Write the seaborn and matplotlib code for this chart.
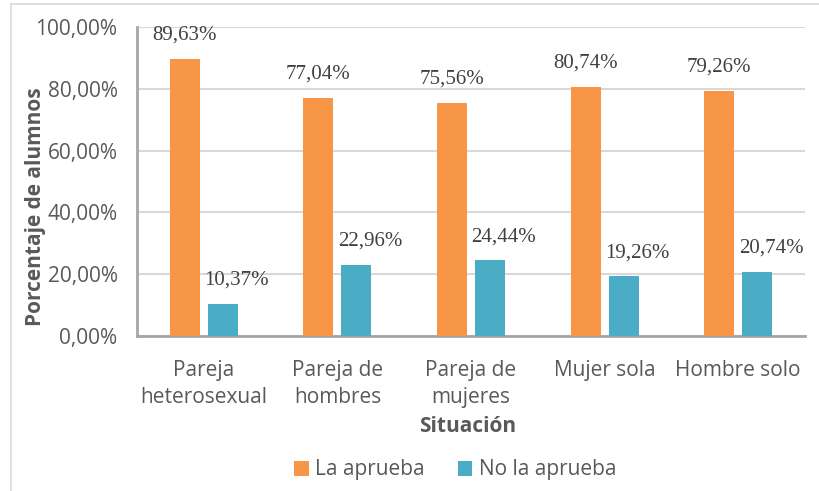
import pandas as pd
import matplotlib
matplotlib.use("Agg")
import matplotlib.pyplot as plt
import seaborn as sns
from matplotlib.patches import Rectangle
from matplotlib.ticker import FuncFormatter, MultipleLocator

# === DATA ===
situaciones = ["Pareja\nheterosexual", "Pareja de\nhombres", "Pareja de\nmujeres",
               "Mujer sola", "Hombre solo"]
series = ["La aprueba", "No la aprueba"]
la_aprueba = [89.63, 77.04, 75.56, 80.74, 79.26]
no_la_aprueba = [10.37, 22.96, 24.44, 19.26, 20.74]
colores = ["#F79646", "#4BACC6"]

df = pd.DataFrame({
    "Situación": situaciones * 2,
    "Serie": [series[0]] * len(situaciones) + [series[1]] * len(situaciones),
    "Porcentaje": la_aprueba + no_la_aprueba,
})

TEXT = "#595959"
sns.set_style("white")
plt.rcParams["font.family"] = ["Open Sans", "DejaVu Sans"]

fig = plt.figure(figsize=(8.19, 4.91), dpi=100)
ax = fig.add_axes([137 / 819, 1 - 336 / 491, 668 / 819, 309 / 491])

# chart area border (left and top visible)
fig.patches.append(Rectangle((11 / 819, -0.1), 1.2, 1 - 4 / 491 + 0.1,
                             transform=fig.transFigure, fill=False,
                             edgecolor="#D9D9D9", linewidth=1.2))

sns.barplot(data=df, x="Situación", y="Porcentaje", hue="Serie",
            palette=colores, width=0.569, gap=0.21, saturation=1,
            edgecolor="none", legend=True, ax=ax, zorder=3)

ax.set_ylim(0, 100)
ax.yaxis.set_major_locator(MultipleLocator(20))
ax.yaxis.set_major_formatter(FuncFormatter(lambda v, p: f"{v:.2f}%".replace(".", ",")))
ax.grid(axis="y", color="#D9D9D9", linewidth=1.5, zorder=0)
for s in ["top", "right"]:
    ax.spines[s].set_visible(False)
for s in ["left", "bottom"]:
    ax.spines[s].set_color("#A6A6A6")
    ax.spines[s].set_linewidth(2)
ax.tick_params(axis="y", length=0, pad=14, labelsize=15, labelcolor=TEXT)
ax.tick_params(axis="x", length=0, pad=17, labelsize=15, labelcolor=TEXT)
for lbl in ax.get_xticklabels():
    lbl.set_linespacing(1.4)

ax.set_ylabel("Porcentaje de alumnos", fontsize=15, fontweight="bold", color=TEXT)
ax.yaxis.set_label_coords(-(137 - 46) / 668, 0.42)
ax.set_xlabel("Situación", fontsize=15, fontweight="bold", color=TEXT)
ax.xaxis.set_label_coords((468 - 137) / 668, -(416 - 336) / 309)

# data labels
for container, dx in zip(ax.containers, [0, 10]):
    for bar in container:
        h = bar.get_height()
        ax.annotate(f"{h:.2f}%".replace(".", ","),
                    xy=(bar.get_x() + bar.get_width() / 2, h),
                    xytext=(dx, 17), textcoords="offset points",
                    ha="center", va="center", fontsize=15,
                    family=["Liberation Serif", "DejaVu Serif"], color="#404040")

ax.legend(loc="center", bbox_to_anchor=((455 - 137) / 668, -(470 - 336) / 309),
          ncol=2, frameon=False, fontsize=15, labelcolor=TEXT,
          handlelength=0.7, handleheight=0.7, handletextpad=0.3, columnspacing=1.6)

fig.savefig("out.png", dpi=100)
